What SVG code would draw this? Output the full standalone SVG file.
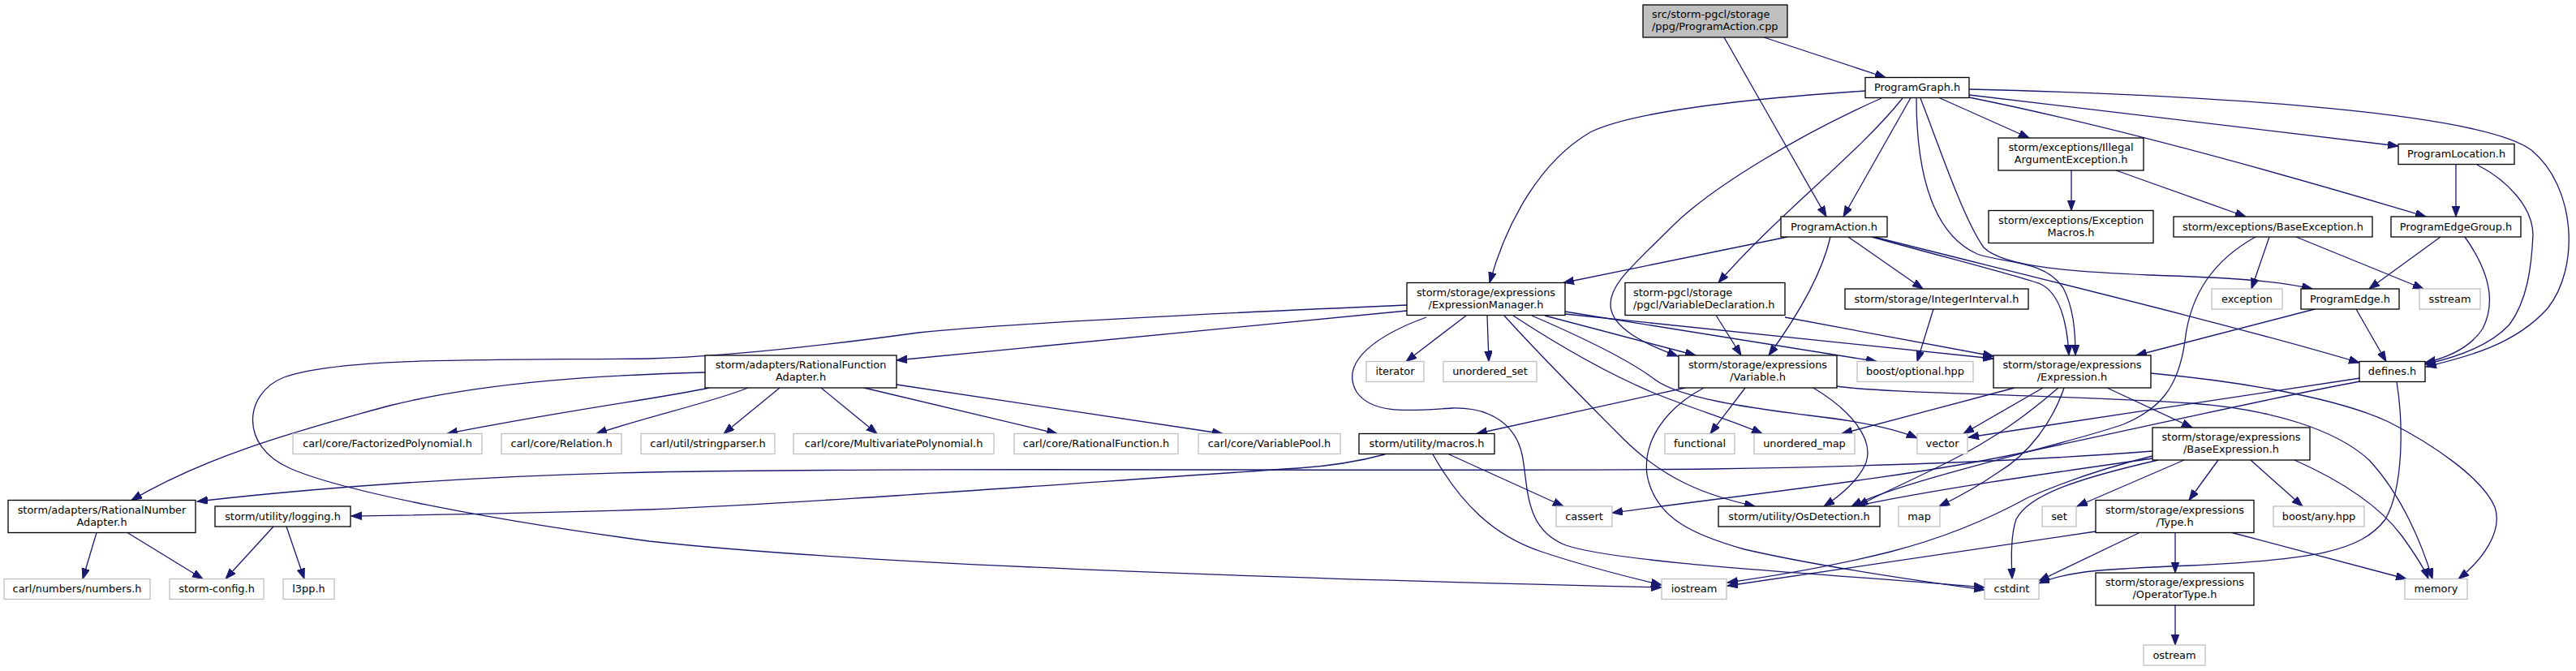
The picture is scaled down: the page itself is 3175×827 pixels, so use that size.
<svg xmlns="http://www.w3.org/2000/svg" width="3175" height="827" viewBox="0 0 3175 827">
<defs>
<style>
.n rect{fill:#fff;stroke:#000;stroke-width:1.3}
.x rect{fill:#fff;stroke:#bfbfbf;stroke-width:1.3}
.r rect{fill:#bfbfbf;stroke:#000;stroke-width:1.3}
text{font-family:"DejaVu Sans","Liberation Sans",sans-serif;font-size:12.9px;fill:#000;text-anchor:middle}
text.l{text-anchor:start}
.e path{fill:none;stroke:#191970;stroke-width:1.3}
</style>
<marker id="ah" markerUnits="userSpaceOnUse" markerWidth="14" markerHeight="11" refX="13" refY="4.8" orient="auto"><path d="M0,0 L13,4.8 L0,9.6 z" fill="#191970" stroke="#191970" stroke-width="1"/></marker>
</defs>
<rect width="3175" height="827" fill="#fff"/>
<g class="e" marker-end="url(#ah)">
<path marker-end="url(#ah)" d="M2174,46 L2324,95.5"/>
<path marker-end="url(#ah)" d="M2125,46 L2251,267"/>
<path marker-end="url(#ah)" d="M2355,120.5 L2272,267"/>
<path marker-end="url(#ah)" d="M2299,112 C2150,122 2010,138 1960,163 C1900,198 1858,270 1836,348.5"/>
<path marker-end="url(#ah)" d="M2319,121 C2220,165 2110,230 2060,280 C2010,330 1985,350 1985,375 C1985,405 2030,425 2068,439"/>
<path marker-end="url(#ah)" d="M2345,121 C2290,190 2190,265 2118,348.5"/>
<path marker-end="url(#ah)" d="M2390,120.5 L2501,170"/>
<path marker-end="url(#ah)" d="M2427,117 L2956,180"/>
<path marker-end="url(#ah)" d="M2427,120 Q2650,165 2990,267"/>
<path marker-end="url(#ah)" d="M2427,110 C2750,118 3060,140 3120,185 C3175,230 3180,330 3140,380 C3100,425 3040,440 2990,452"/>
<path marker-end="url(#ah)" d="M2367,121 C2390,180 2420,270 2445,305 C2470,330 2560,335 2650,339 C2740,342 2800,345 2850,356"/>
<path marker-end="url(#ah)" d="M2362,121 C2362,220 2385,290 2437,313 C2470,325 2520,320 2543,355 C2555,378 2558,405 2558,438"/>
<path marker-end="url(#ah)" d="M2203,292 L1927,348.5"/>
<path marker-end="url(#ah)" d="M2256,292 C2245,340 2215,390 2180,438"/>
<path marker-end="url(#ah)" d="M2278,292 L2370,356"/>
<path marker-end="url(#ah)" d="M2307,292 C2400,318 2480,338 2515,350 C2540,362 2548,400 2550,438"/>
<path marker-end="url(#ah)" d="M2310,292 C2500,340 2750,400 2908,447"/>
<path marker-end="url(#ah)" d="M1734,383 L1105,444"/>
<path marker-end="url(#ah)" d="M1734,376 C1500,386 1250,398 1132,410 C1000,428 880,440 800,442 C600,444 420,440 350,465 C300,485 295,550 357,577 C420,605 600,640 800,667 C1100,700 1700,716 2048,724"/>
<path marker-end="url(#ah)" d="M1758,391 C1700,412 1650,445 1672,483 C1692,512 1740,506 1790,503 C1840,502 1868,525 1876,560 C1884,600 1878,652 1930,672 C2000,696 2300,710 2446,724"/>
<path marker-end="url(#ah)" d="M1807,389 L1733,445.5"/>
<path marker-end="url(#ah)" d="M1833,388.5 L1835,445.5"/>
<path marker-end="url(#ah)" d="M1854,389 C1900,440 1950,490 2000,540 C2050,590 2100,610 2163,624"/>
<path marker-end="url(#ah)" d="M1865,389 C1920,425 1980,460 2040,485 C2090,505 2140,520 2172,534.5"/>
<path marker-end="url(#ah)" d="M1888,389 C1960,420 2010,445 2040,468 C2070,490 2150,502 2230,512 C2300,520 2340,530 2363,540"/>
<path marker-end="url(#ah)" d="M1904,389 L2090,438"/>
<path marker-end="url(#ah)" d="M1929,384 L2313,445.5"/>
<path marker-end="url(#ah)" d="M1929,387 L2457,442"/>
<path marker-end="url(#ah)" d="M2115,388.5 L2146,438"/>
<path marker-end="url(#ah)" d="M2200,391 C2300,410 2400,428 2457,439"/>
<path marker-end="url(#ah)" d="M2383,381 L2363,445.5"/>
<path marker-end="url(#ah)" d="M2553,210 L2553,259.5"/>
<path marker-end="url(#ah)" d="M2608,210 L2768,267"/>
<path marker-end="url(#ah)" d="M3027,202.5 L3027,267"/>
<path marker-end="url(#ah)" d="M3053,203 C3090,222 3122,255 3122,290 C3120,330 3115,370 3093,400 C3070,425 3030,440 2989,449"/>
<path marker-end="url(#ah)" d="M3008,292 L2920,356"/>
<path marker-end="url(#ah)" d="M3038,292 C3065,330 3078,370 3060,405 C3045,428 3020,440 2989,447"/>
<path marker-end="url(#ah)" d="M2797,292 L2775,356"/>
<path marker-end="url(#ah)" d="M2830,292 L2987,356"/>
<path marker-end="url(#ah)" d="M2780,292 C2730,320 2700,360 2693,420 C2685,480 2660,505 2617,523 C2540,550 2350,590 2282,624"/>
<path marker-end="url(#ah)" d="M2853,381 L2633,438"/>
<path marker-end="url(#ah)" d="M2904,381 L2941,445.5"/>
<path marker-end="url(#ah)" d="M2077,478 L1820,534.5"/>
<path marker-end="url(#ah)" d="M2151,478 L2108,534.5"/>
<path marker-end="url(#ah)" d="M2235,478 C2280,505 2310,540 2300,570 C2292,590 2270,610 2248,624"/>
<path marker-end="url(#ah)" d="M2100,478 C2050,505 2025,545 2030,585 C2040,640 2090,660 2150,677 C2250,700 2380,718 2446,727"/>
<path marker-end="url(#ah)" d="M2264,476 C2320,485 2550,487 2700,497 C2800,504 2880,530 2920,567 C2960,610 2985,670 2998,713.5"/>
<path marker-end="url(#ah)" d="M2483,478 L2270,534.5"/>
<path marker-end="url(#ah)" d="M2518,478 L2420,534.5"/>
<path marker-end="url(#ah)" d="M2537,478 C2500,510 2460,540 2400,570 C2350,595 2310,612 2290,624"/>
<path marker-end="url(#ah)" d="M2544,478 C2530,520 2500,560 2463,582 C2440,598 2415,612 2390,624"/>
<path marker-end="url(#ah)" d="M2597,478 L2702,527"/>
<path marker-end="url(#ah)" d="M2651,460 C2760,470 2880,490 2944,520 C3000,548 3060,590 3075,625 C3085,655 3060,690 3030,713.5"/>
<path marker-end="url(#ah)" d="M2909,466 L2426,539"/>
<path marker-end="url(#ah)" d="M2909,470 C2800,490 2650,525 2483,560 C2350,588 2150,610 1987,632"/>
<path marker-end="url(#ah)" d="M2954,470.5 C2962,520 2963,600 2940,640 C2910,680 2850,690 2700,697 C2600,701 2550,703 2513,719"/>
<path marker-end="url(#ah)" d="M2653,556 C2500,568 2300,575 2110,578 C1700,582 1200,575 800,582 C600,586 400,600 243,618"/>
<path marker-end="url(#ah)" d="M2653,565 C2550,580 2400,600 2286,624"/>
<path marker-end="url(#ah)" d="M2653,562 C2580,580 2530,600 2500,613 C2460,635 2400,662 2330,680 C2270,695 2200,708 2129,718"/>
<path marker-end="url(#ah)" d="M2660,567 C2560,590 2500,610 2485,640 C2478,660 2479,690 2480,713.5"/>
<path marker-end="url(#ah)" d="M2692,567 L2560,624"/>
<path marker-end="url(#ah)" d="M2734,567 L2698,616.5"/>
<path marker-end="url(#ah)" d="M2774,567 L2838,624"/>
<path marker-end="url(#ah)" d="M2828,567 C2880,590 2930,620 2960,660 C2978,685 2988,700 2993,713.5"/>
<path marker-end="url(#ah)" d="M869,459 C750,462 600,470 480,500 C350,535 250,565 162,616.5"/>
<path marker-end="url(#ah)" d="M874,478 C820,490 700,505 551,534.5"/>
<path marker-end="url(#ah)" d="M922,478 C880,495 800,513 735,534.5"/>
<path marker-end="url(#ah)" d="M961,478 L892,534.5"/>
<path marker-end="url(#ah)" d="M1012,478 L1081,534.5"/>
<path marker-end="url(#ah)" d="M1065,478 L1303,534.5"/>
<path marker-end="url(#ah)" d="M1105,474 L1507,534.5"/>
<path marker-end="url(#ah)" d="M1707,560 C1670,570 1630,575 1600,577 C1300,597 1000,620 800,628 C650,633 500,635 433,636"/>
<path marker-end="url(#ah)" d="M1786,560 L1927,624"/>
<path marker-end="url(#ah)" d="M1766,560 C1800,620 1840,660 1900,680 C1960,700 2010,712 2048,721"/>
<path marker-end="url(#ah)" d="M2681,656.5 L2681,706"/>
<path marker-end="url(#ah)" d="M2637,656.5 L2513,716"/>
<path marker-end="url(#ah)" d="M2751,656.5 L2966,713.5"/>
<path marker-end="url(#ah)" d="M2583,655 L2129,722"/>
<path marker-end="url(#ah)" d="M2681,746 L2681,795"/>
<path marker-end="url(#ah)" d="M119,656.5 L102,713.5"/>
<path marker-end="url(#ah)" d="M157,656.5 L250,713.5"/>
<path marker-end="url(#ah)" d="M337,649 L278,713.5"/>
<path marker-end="url(#ah)" d="M353,649 L375,713.5"/>
</g>
<g id="root" class="r"><rect x="2025" y="6" width="178" height="40"/><text class="l" x="2036" y="22">src/storm-pgcl/storage</text><text class="l" x="2036" y="37">/ppg/ProgramAction.cpp</text></g>
<g id="ProgramGraph" class="n"><rect x="2299" y="95.5" width="128" height="25"/><text x="2363" y="112">ProgramGraph.h</text></g>
<g id="IllegalArgumentException" class="n"><rect x="2463" y="170" width="179" height="40"/><text x="2552.5" y="186">storm/exceptions/Illegal</text><text x="2552.5" y="201">ArgumentException.h</text></g>
<g id="ProgramLocation" class="n"><rect x="2956" y="177.5" width="143" height="25"/><text x="3027.5" y="194">ProgramLocation.h</text></g>
<g id="ProgramAction" class="n"><rect x="2195" y="267" width="131" height="25"/><text x="2260.5" y="283.5">ProgramAction.h</text></g>
<g id="ExceptionMacros" class="n"><rect x="2451" y="259.5" width="203" height="40"/><text x="2552.5" y="275.5">storm/exceptions/Exception</text><text x="2552.5" y="290.5">Macros.h</text></g>
<g id="BaseException" class="n"><rect x="2679" y="267" width="245" height="25"/><text x="2801.5" y="283.5">storm/exceptions/BaseException.h</text></g>
<g id="ProgramEdgeGroup" class="n"><rect x="2947" y="267" width="160" height="25"/><text x="3027" y="283.5">ProgramEdgeGroup.h</text></g>
<g id="ExpressionManager" class="n"><rect x="1734" y="348.5" width="195" height="40"/><text x="1831.5" y="364.5">storm/storage/expressions</text><text x="1831.5" y="379.5">/ExpressionManager.h</text></g>
<g id="VariableDeclaration" class="n"><rect x="2003" y="348.5" width="197" height="40"/><text class="l" x="2013" y="364.5">storm-pgcl/storage</text><text class="l" x="2013" y="379.5">/pgcl/VariableDeclaration.h</text></g>
<g id="IntegerInterval" class="n"><rect x="2274" y="356" width="226" height="25"/><text x="2387" y="372.5">storm/storage/IntegerInterval.h</text></g>
<g id="exception" class="x"><rect x="2726" y="356" width="87" height="25"/><text x="2769.5" y="372.5">exception</text></g>
<g id="ProgramEdge" class="n"><rect x="2836" y="356" width="121" height="25"/><text x="2896.5" y="372.5">ProgramEdge.h</text></g>
<g id="sstream" class="x"><rect x="2982" y="356" width="75" height="25"/><text x="3019.5" y="372.5">sstream</text></g>
<g id="RationalFunctionAdapter" class="n"><rect x="869" y="438" width="236" height="40"/><text x="987" y="454">storm/adapters/RationalFunction</text><text x="987" y="469">Adapter.h</text></g>
<g id="iterator" class="x"><rect x="1684" y="445.5" width="71" height="25"/><text x="1719.5" y="462">iterator</text></g>
<g id="unordered_set" class="x"><rect x="1779" y="445.5" width="115" height="25"/><text x="1836.5" y="462">unordered_set</text></g>
<g id="Variable" class="n"><rect x="2069" y="438" width="195" height="40"/><text x="2166.5" y="454">storm/storage/expressions</text><text x="2166.5" y="469">/Variable.h</text></g>
<g id="boost_optional" class="x"><rect x="2289" y="445.5" width="143" height="25"/><text x="2360.5" y="462">boost/optional.hpp</text></g>
<g id="Expression" class="n"><rect x="2457" y="438" width="194" height="40"/><text x="2554" y="454">storm/storage/expressions</text><text x="2554" y="469">/Expression.h</text></g>
<g id="defines" class="n"><rect x="2908" y="445.5" width="81" height="25"/><text x="2948.5" y="462">defines.h</text></g>
<g id="FactorizedPolynomial" class="x"><rect x="361" y="534.5" width="233" height="25"/><text x="477.5" y="551">carl/core/FactorizedPolynomial.h</text></g>
<g id="Relation" class="x"><rect x="618" y="534.5" width="148" height="25"/><text x="692" y="551">carl/core/Relation.h</text></g>
<g id="stringparser" class="x"><rect x="790" y="534.5" width="165" height="25"/><text x="872.5" y="551">carl/util/stringparser.h</text></g>
<g id="MultivariatePolynomial" class="x"><rect x="978" y="534.5" width="247" height="25"/><text x="1101.5" y="551">carl/core/MultivariatePolynomial.h</text></g>
<g id="RationalFunction" class="x"><rect x="1250" y="534.5" width="202" height="25"/><text x="1351" y="551">carl/core/RationalFunction.h</text></g>
<g id="VariablePool" class="x"><rect x="1477" y="534.5" width="175" height="25"/><text x="1564.5" y="551">carl/core/VariablePool.h</text></g>
<g id="macros" class="n"><rect x="1675" y="534.5" width="167" height="25"/><text x="1758.5" y="551">storm/utility/macros.h</text></g>
<g id="functional" class="x"><rect x="2052" y="534.5" width="86" height="25"/><text x="2095" y="551">functional</text></g>
<g id="unordered_map" class="x"><rect x="2162" y="534.5" width="124" height="25"/><text x="2224" y="551">unordered_map</text></g>
<g id="vector" class="x"><rect x="2363" y="534.5" width="62" height="25"/><text x="2394" y="551">vector</text></g>
<g id="BaseExpression" class="n"><rect x="2653" y="527" width="194" height="40"/><text x="2750" y="543">storm/storage/expressions</text><text x="2750" y="558">/BaseExpression.h</text></g>
<g id="RationalNumberAdapter" class="n"><rect x="10" y="616.5" width="231" height="40"/><text x="125.5" y="632.5">storm/adapters/RationalNumber</text><text x="125.5" y="647.5">Adapter.h</text></g>
<g id="logging" class="n"><rect x="265" y="624" width="167" height="25"/><text x="348.5" y="640.5">storm/utility/logging.h</text></g>
<g id="cassert" class="x"><rect x="1918" y="624" width="69" height="25"/><text x="1952.5" y="640.5">cassert</text></g>
<g id="OsDetection" class="n"><rect x="2118" y="624" width="199" height="25"/><text x="2217.5" y="640.5">storm/utility/OsDetection.h</text></g>
<g id="map" class="x"><rect x="2340" y="624" width="51" height="25"/><text x="2365.5" y="640.5">map</text></g>
<g id="set" class="x"><rect x="2517" y="624" width="42" height="25"/><text x="2538" y="640.5">set</text></g>
<g id="Type" class="n"><rect x="2583" y="616.5" width="195" height="40"/><text x="2680.5" y="632.5">storm/storage/expressions</text><text x="2680.5" y="647.5">/Type.h</text></g>
<g id="boost_any" class="x"><rect x="2802" y="624" width="112" height="25"/><text x="2858" y="640.5">boost/any.hpp</text></g>
<g id="numbers" class="x"><rect x="5" y="713.5" width="180" height="25"/><text x="95" y="730">carl/numbers/numbers.h</text></g>
<g id="storm_config" class="x"><rect x="209" y="713.5" width="116" height="25"/><text x="267" y="730">storm-config.h</text></g>
<g id="l3pp" class="x"><rect x="349" y="713.5" width="63" height="25"/><text x="380.5" y="730">l3pp.h</text></g>
<g id="iostream" class="x"><rect x="2048" y="713.5" width="80" height="25"/><text x="2088" y="730">iostream</text></g>
<g id="cstdint" class="x"><rect x="2446" y="713.5" width="67" height="25"/><text x="2479.5" y="730">cstdint</text></g>
<g id="OperatorType" class="n"><rect x="2583" y="706" width="195" height="40"/><text x="2680.5" y="722">storm/storage/expressions</text><text x="2680.5" y="737">/OperatorType.h</text></g>
<g id="memory" class="x"><rect x="2964" y="713.5" width="77" height="25"/><text x="3002.5" y="730">memory</text></g>
<g id="ostream" class="x"><rect x="2642" y="795" width="76" height="25"/><text x="2680" y="811.5">ostream</text></g>
</svg>
